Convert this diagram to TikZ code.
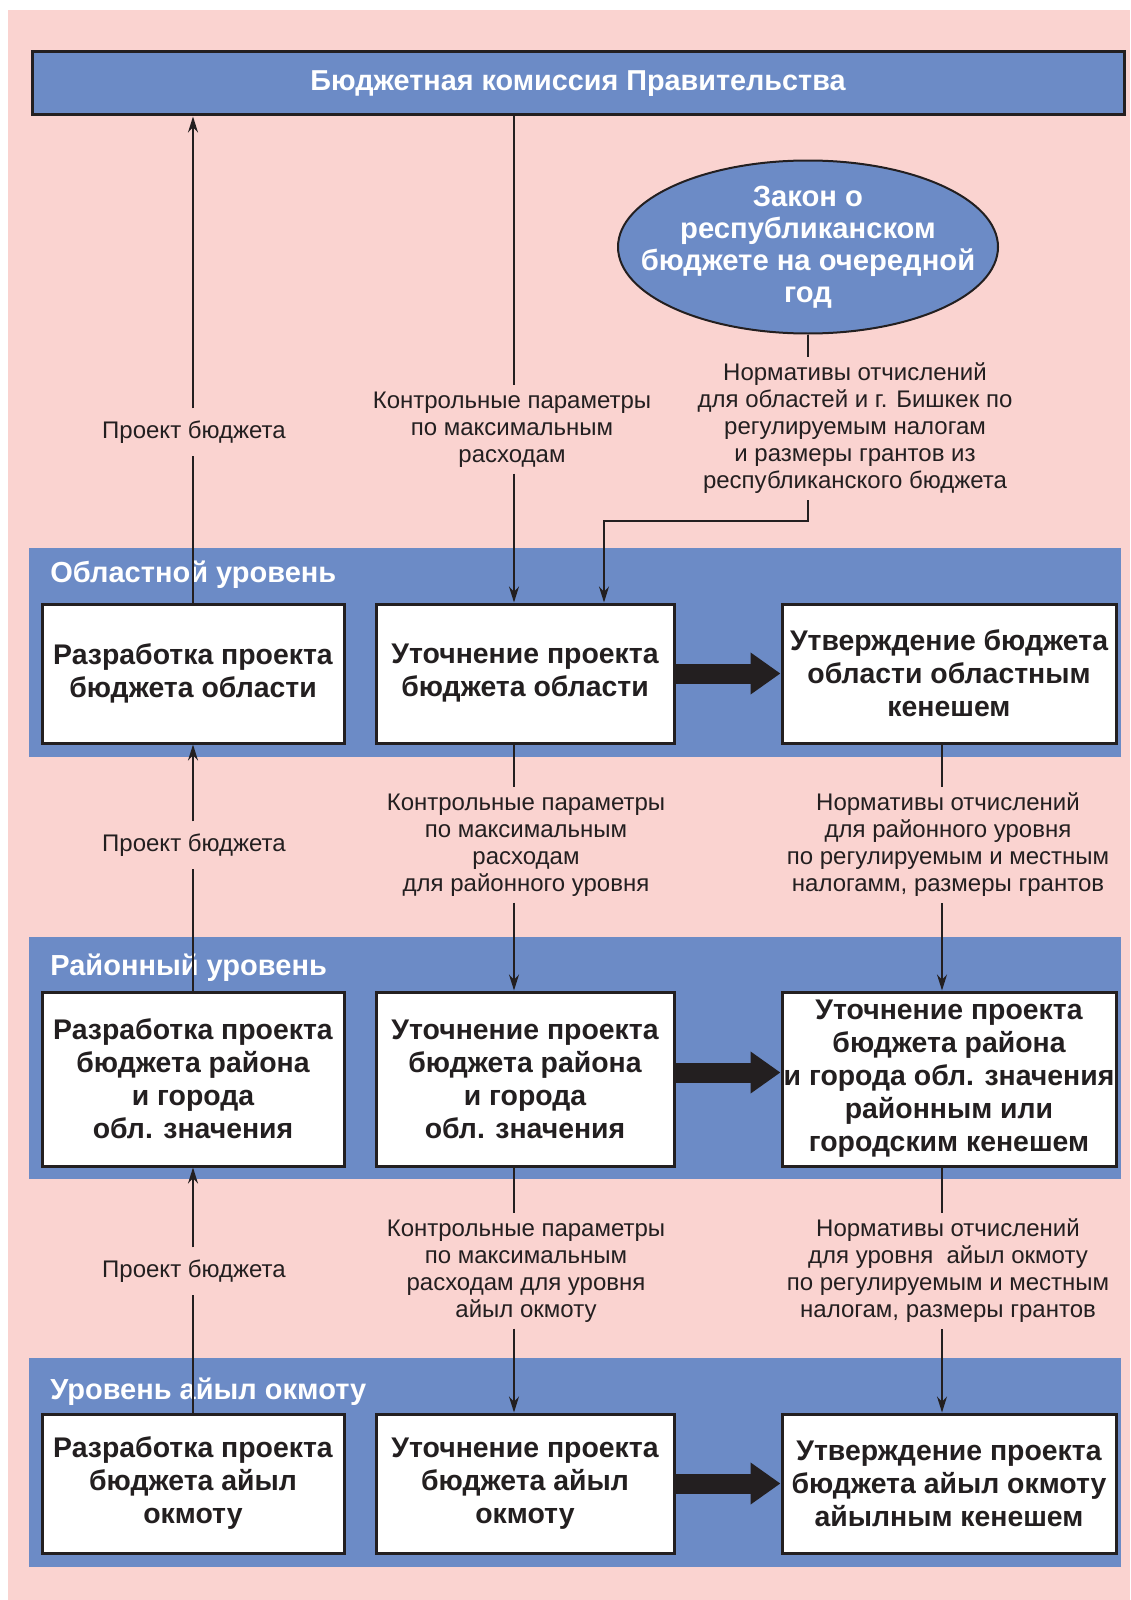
\documentclass[tikz,border=0pt]{standalone}
\usepackage{fontspec}
\setmainfont{Liberation Sans}
\usetikzlibrary{shapes,arrows.meta,positioning}
\definecolor{bgpink}{RGB}{250,211,208}
\definecolor{lvlblue}{RGB}{108,139,198}
\definecolor{ink}{RGB}{35,31,32}

\begin{document}
\begin{tikzpicture}[x=0.5pt, y=-0.5pt,
  box/.style = {draw=ink, line width=1.5pt, fill=white, align=center, text=ink, inner sep=0pt, font=\fontsize{14.2}{16.5}\selectfont\bfseries},
  note/.style = {align=center, text=ink, inner sep=3pt, font=\fontsize{12}{13.5}\selectfont},
  level/.style = {anchor=west, text=white, inner sep=0pt, font=\fontsize{14.5}{16}\selectfont\bfseries},
  wire/.style = {draw=ink, line width=0.8pt},
  arr/.style = {wire, -{Stealth[length=8pt, width=5pt]}},
  fat/.style = {draw=ink, line width=10pt, -{Triangle[length=15pt, width=20pt]}}]
  \useasboundingbox (0,0) rectangle (1130,1600);
  \fill[bgpink] (8,10) rectangle (1130,1600);
  \fill[lvlblue] (29,548) rectangle (1121,757);
  \fill[lvlblue] (29,937) rectangle (1121,1179);
  \fill[lvlblue] (29,1358) rectangle (1121,1567);

  \node[box, fill=lvlblue, text=white, minimum width=546pt, minimum height=31.5pt, font=\fontsize{14.4}{16}\selectfont\bfseries] (bar) at (578,83.5) {Бюджетная комиссия Правительства};
  \node[ellipse, draw=ink, line width=1pt, fill=lvlblue, minimum width=190pt, minimum height=86.5pt] (law) at (808,247) {};
  \node[align=center, text=white, font=\fontsize{14.6}{16}\selectfont\bfseries] at (law) {Закон о\\республиканском\\бюджете на очередной\\год};

  \node[level] (l1) at (50,575) {Областной уровень};
  \node[level] (l2) at (50,968) {Районный уровень};
  \node[level] (l3) at (50,1392) {Уровень айыл окмоту};

  \node[box, minimum width=151pt, minimum height=69.5pt] (b1) at (193,673.5) {Разработка проекта\\бюджета области};
  \node[box, minimum width=149pt, minimum height=69.5pt, right=14.5pt of b1] (b2) {Уточнение проекта\\бюджета области};
  \node[box, minimum width=167pt, minimum height=69.5pt, right=52.5pt of b2] (b3) {Утверждение бюджета\\области областным\\кенешем};

  \node[box, minimum width=151pt, minimum height=87pt] (b4) at (193,1079) {Разработка проекта\\бюджета района\\и города\\обл. значения};
  \node[box, minimum width=149pt, minimum height=87pt, right=14.5pt of b4] (b5) {Уточнение проекта\\бюджета района\\и города\\обл. значения};
  \node[box, minimum width=167pt, minimum height=87pt, right=52.5pt of b5] (b6) {Уточнение проекта\\бюджета района\\и города обл. значения\\районным или\\городским кенешем};

  \node[box, minimum width=151pt, minimum height=69.5pt] (b7) at (193,1483.5) {Разработка проекта\\бюджета айыл\\окмоту};
  \node[box, minimum width=149pt, minimum height=69.5pt, right=14.5pt of b7] (b8) {Уточнение проекта\\бюджета айыл\\окмоту};
  \node[box, minimum width=167pt, minimum height=69.5pt, right=52.5pt of b8] (b9) {Утверждение проекта\\бюджета айыл окмоту\\айылным кенешем};

  \node[note] (k0) at (855,428.5) {Нормативы отчислений\\для областей и г. Бишкек по\\регулируемым налогам\\и размеры грантов из\\республиканского бюджета};
  \node[note] (k1) at (512,429.5) {Контрольные параметры\\по максимальным\\расходам};
  \node[note, inner ysep=6pt] (p1) at (194,432) {Проект бюджета};
  \node[note] (k2) at (526,845) {Контрольные параметры\\по максимальным\\расходам\\для районного уровня};
  \node[note] (n2) at (948,845) {Нормативы отчислений\\для районного уровня\\по регулируемым и местным\\налогамм, размеры грантов};
  \node[note, inner ysep=6pt] (p2) at (194,845) {Проект бюджета};
  \node[note] (k3) at (526,1271) {Контрольные параметры\\по максимальным\\расходам для уровня\\айыл окмоту};
  \node[note] (n3) at (948,1271) {Нормативы отчислений\\для уровня~ айыл окмоту\\по регулируемым и местным\\налогам, размеры грантов};
  \node[note, inner ysep=6pt] (p3) at (194,1271) {Проект бюджета};

  \coordinate (mx) at (514,0);
  \coordinate (nx) at (942,0);
  \coordinate (kn) at (604,521);

  \draw[wire] (b1.north) -- (b1.north |- p1.south);
  \draw[arr] (b1.north |- p1.north) -- (b1.north |- bar.south);
  \draw[wire] (mx |- bar.south) -- (mx |- k1.north);
  \draw[arr] (mx |- k1.south) -- (mx |- b2.north);
  \draw[wire] (law.south) -- (law.south |- k0.north);
  \draw[arr] (law.south |- k0.south) |- (kn) -- (kn |- b2.north);

  \draw[wire] (b4.north) -- (b4.north |- p2.south);
  \draw[arr] (b4.north |- p2.north) -- (b1.south);
  \draw[wire] (mx |- b2.south) -- (mx |- k2.north);
  \draw[arr] (mx |- k2.south) -- (mx |- b5.north);
  \draw[wire] (nx |- b3.south) -- (nx |- n2.north);
  \draw[arr] (nx |- n2.south) -- (nx |- b6.north);

  \draw[wire] (b7.north) -- (b7.north |- p3.south);
  \draw[arr] (b7.north |- p3.north) -- (b4.south);
  \draw[wire] (mx |- b5.south) -- (mx |- k3.north);
  \draw[arr] (mx |- k3.south) -- (mx |- b8.north);
  \draw[wire] (nx |- b6.south) -- (nx |- n3.north);
  \draw[arr] (nx |- n3.south) -- (nx |- b9.north);

  \draw[fat] (b2.east) -- (b3.west);
  \draw[fat] ([yshift=3.25pt]b5.east) -- ([yshift=3.25pt]b6.west);
  \draw[fat] (b8.east) -- (b9.west);
\end{tikzpicture}
\end{document}
